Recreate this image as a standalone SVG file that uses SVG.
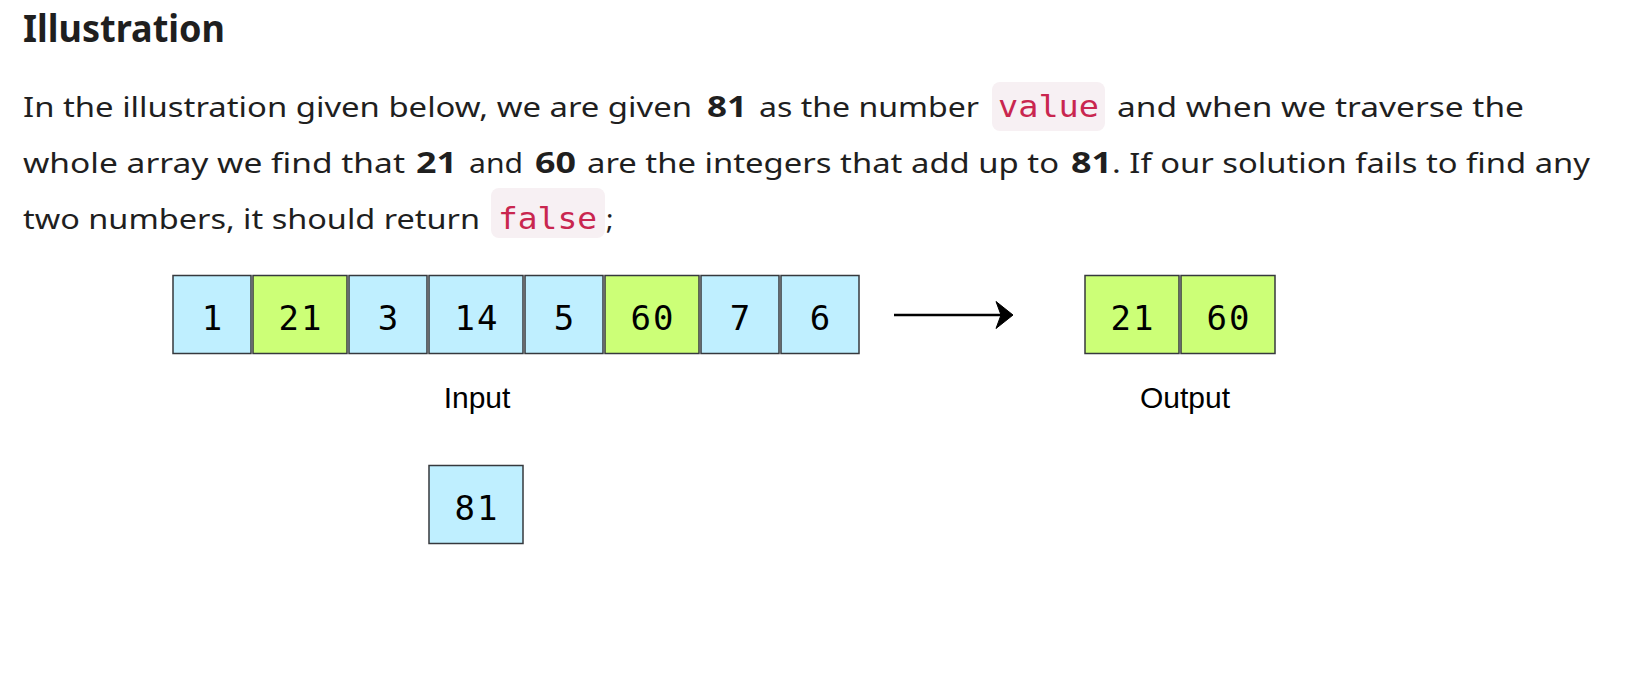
<svg xmlns="http://www.w3.org/2000/svg" width="1626" height="682" viewBox="0 0 1626 682">
<style>
.t{font-family:"Noto Sans",Lato,sans-serif;font-size:28px;fill:#1f1f1f}
.b{font-weight:bold}
.code{font-family:"DejaVu Sans Mono","Liberation Mono",monospace;font-size:30px;fill:#c9264f}
.codebg{fill:#f7f0f3}
.blue{fill:#bfefff;stroke:#36393d;stroke-width:1.5}
.green{fill:#ccff77;stroke:#36393d;stroke-width:1.5}
.num{font-family:"DejaVu Sans Mono","Liberation Mono",monospace;font-size:34px;fill:#000;text-anchor:middle;letter-spacing:2px}
.lbl{font-family:"Liberation Sans",Arial,sans-serif;font-size:30px;fill:#000;text-anchor:middle}
</style>
<rect width="1626" height="682" fill="#ffffff"/>
<g id="heading">
<text x="23" y="42" class="t b" style="font-size:38px" textLength="202" lengthAdjust="spacingAndGlyphs">Illustration</text>
</g>
<g id="paragraph">
<rect class="codebg" x="992" y="82" width="113" height="49" rx="8"/>
<rect class="codebg" x="491" y="188" width="114" height="50" rx="8"/>
<text y="117" class="t"><tspan x="23" textLength="669" lengthAdjust="spacingAndGlyphs">In the illustration given below, we are given</tspan><tspan x="707" class="b" textLength="40" lengthAdjust="spacingAndGlyphs">81</tspan><tspan x="759" textLength="220" lengthAdjust="spacingAndGlyphs">as the number</tspan><tspan x="998" class="code" textLength="101" lengthAdjust="spacingAndGlyphs">value</tspan><tspan x="1117" textLength="407" lengthAdjust="spacingAndGlyphs">and when we traverse the</tspan></text>
<text y="173" class="t"><tspan x="23" textLength="382" lengthAdjust="spacingAndGlyphs">whole array we find that</tspan><tspan x="416" class="b" textLength="41" lengthAdjust="spacingAndGlyphs">21</tspan><tspan x="469" textLength="54" lengthAdjust="spacingAndGlyphs">and</tspan><tspan x="535" class="b" textLength="41" lengthAdjust="spacingAndGlyphs">60</tspan><tspan x="587" textLength="472" lengthAdjust="spacingAndGlyphs">are the integers that add up to</tspan><tspan x="1071" class="b" textLength="41" lengthAdjust="spacingAndGlyphs">81</tspan><tspan x="1112" textLength="478" lengthAdjust="spacingAndGlyphs">. If our solution fails to find any</tspan></text>
<text y="229" class="t"><tspan x="23" textLength="457" lengthAdjust="spacingAndGlyphs">two numbers, it should return</tspan><tspan x="498" class="code" textLength="99" lengthAdjust="spacingAndGlyphs">false</tspan><tspan x="606">;</tspan></text>
</g>
<g id="input-array">
<rect class="blue" x="173" y="275.5" width="78" height="78"/>
<text class="num" x="213" y="330">1</text>
<rect class="green" x="253" y="275.5" width="94" height="78"/>
<text class="num" x="301" y="330">21</text>
<rect class="blue" x="349" y="275.5" width="78" height="78"/>
<text class="num" x="389" y="330">3</text>
<rect class="blue" x="429" y="275.5" width="94" height="78"/>
<text class="num" x="477" y="330">14</text>
<rect class="blue" x="525" y="275.5" width="78" height="78"/>
<text class="num" x="565" y="330">5</text>
<rect class="green" x="605" y="275.5" width="94" height="78"/>
<text class="num" x="653" y="330">60</text>
<rect class="blue" x="701" y="275.5" width="78" height="78"/>
<text class="num" x="741" y="330">7</text>
<rect class="blue" x="781" y="275.5" width="78" height="78"/>
<text class="num" x="821" y="330">6</text>
</g>
<g id="input-label">
<text class="lbl" x="477" y="408">Input</text>
</g>
<g id="value-box">
<rect class="blue" x="429" y="465.5" width="94" height="78"/>
<text class="num" x="477" y="520">81</text>
</g>
<g id="output-array">
<rect class="green" x="1085" y="275.5" width="94" height="78"/>
<text class="num" x="1133" y="330">21</text>
<rect class="green" x="1181" y="275.5" width="94" height="78"/>
<text class="num" x="1229" y="330">60</text>
</g>
<g id="output-label">
<text class="lbl" x="1185" y="408">Output</text>
</g>
<g id="connectors">
<line x1="894" y1="315" x2="1002" y2="315" stroke="#000" stroke-width="2.5"/>
<path d="M1013 315 L996 301.5 L1001 315 L996 328.5 Z" fill="#000" stroke="#000" stroke-width="1"/>
</g>
</svg>
